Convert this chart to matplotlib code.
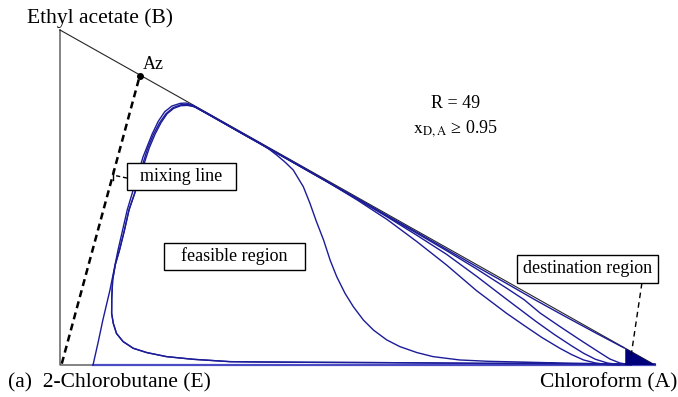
import matplotlib
matplotlib.use('Agg')
import matplotlib.pyplot as plt
from matplotlib.patches import Rectangle

plt.rcParams['font.family'] = ['Liberation Serif', 'DejaVu Serif']
plt.rcParams['mathtext.fontset'] = 'stix'

# compositions: x = chloroform (A), y = ethyl acetate (B), rest 2-chlorobutane (E)
azeotrope = (0.134, 0.863)
mixing_start = (0.003, 0.004)

# profile rising straight from the E-A edge, ends in the destination corner
outer_profile = [(0.0555, 0.000), (0.064, 0.067), (0.072, 0.134), (0.084, 0.224),
                 (0.0975, 0.343), (0.113, 0.463), (0.128, 0.552), (0.1395, 0.621),
                 (0.155, 0.690), (0.165, 0.727), (0.176, 0.756), (0.188, 0.773),
                 (0.202, 0.781), (0.212, 0.782), (0.222, 0.776), (0.25, 0.748),
                 (0.30, 0.698), (0.35, 0.648), (0.40, 0.598), (0.45, 0.547),
                 (0.50, 0.497), (0.55, 0.446), (0.60, 0.396), (0.65, 0.345),
                 (0.70, 0.294), (0.75, 0.244), (0.80, 0.193), (0.85, 0.144),
                 (0.90, 0.096), (0.948, 0.051)]

# bottom run and hook shared by two profiles
hook_base = [(1.0, 0.002), (0.85, 0.004), (0.70, 0.005), (0.55, 0.007), (0.42, 0.008),
             (0.34, 0.009), (0.2857, 0.010), (0.224, 0.017), (0.179, 0.025),
             (0.146, 0.037), (0.123, 0.050), (0.106, 0.070), (0.095, 0.094),
             (0.0896, 0.124), (0.0868, 0.154), (0.087, 0.200), (0.0885, 0.254),
             (0.093, 0.300), (0.100, 0.343), (0.108, 0.400), (0.116, 0.463),
             (0.125, 0.510), (0.133, 0.552)]

hook_profile = hook_base + [
    (0.143, 0.610), (0.150, 0.648), (0.160, 0.690), (0.170, 0.724), (0.180, 0.750),
    (0.191, 0.766), (0.203, 0.774), (0.214, 0.775), (0.226, 0.771), (0.25, 0.748),
    (0.30, 0.698), (0.32, 0.678), (0.336, 0.662), (0.350, 0.646), (0.364, 0.627),
    (0.378, 0.606), (0.392, 0.582), (0.409, 0.532), (0.420, 0.483), (0.431, 0.428),
    (0.443, 0.373), (0.454, 0.313), (0.465, 0.264), (0.479, 0.214), (0.493, 0.174),
    (0.510, 0.134), (0.527, 0.104), (0.549, 0.075), (0.571, 0.055), (0.600, 0.037),
    (0.627, 0.025), (0.672, 0.015), (0.72, 0.011), (0.773, 0.009), (0.84, 0.006),
    (0.908, 0.004), (1.0, 0.002)]

middle_profile = hook_base + [
    (0.140, 0.605), (0.147, 0.645), (0.157, 0.688), (0.167, 0.722), (0.178, 0.750),
    (0.190, 0.768), (0.203, 0.777), (0.215, 0.778), (0.228, 0.769), (0.25, 0.747),
    (0.30, 0.697), (0.35, 0.647), (0.40, 0.597), (0.45, 0.546), (0.50, 0.495),
    (0.55, 0.444), (0.60, 0.393), (0.65, 0.341), (0.70, 0.287), (0.75, 0.230),
    (0.78, 0.195), (0.807, 0.155), (0.84, 0.115), (0.874, 0.075), (0.908, 0.036),
    (0.924, 0.018), (0.941, 0.006), (0.96, 0.000)]

fan_profile_3 = [(0.222, 0.776), (0.25, 0.748), (0.30, 0.697), (0.35, 0.647),
                 (0.40, 0.597), (0.45, 0.546), (0.50, 0.495), (0.55, 0.442),
                 (0.60, 0.387), (0.65, 0.330), (0.70, 0.265), (0.75, 0.197),
                 (0.80, 0.130), (0.83, 0.092), (0.86, 0.057), (0.88, 0.035),
                 (0.90, 0.017), (0.92, 0.006), (0.94, 0.001), (0.96, 0.000)]

fan_profile_4 = [(0.222, 0.776), (0.25, 0.748), (0.30, 0.697), (0.35, 0.647),
                 (0.40, 0.596), (0.45, 0.546), (0.50, 0.492), (0.55, 0.434),
                 (0.60, 0.368), (0.65, 0.298), (0.70, 0.222), (0.75, 0.155),
                 (0.78, 0.118), (0.81, 0.082), (0.84, 0.050), (0.86, 0.031),
                 (0.88, 0.015), (0.90, 0.006), (0.92, 0.001), (0.94, 0.000)]

profiles = [outer_profile, hook_profile, middle_profile, fan_profile_3, fan_profile_4]

# distillate purity target x_D,A >= 0.95
purity = 0.95

fig = plt.figure(figsize=(6.78, 3.97), dpi=100)
ax = fig.add_axes([60 / 678, 32 / 397, 595 / 678, 335 / 397])
ax.set_xlim(0, 1)
ax.set_ylim(0, 1)
ax.axis('off')

# triangle edges
ax.plot([0, 0, 1, 0], [1, 0, 0, 1], color='0.15', lw=0.8, clip_on=False, zorder=2)

# feasible region boundary along the E-A edge
ax.plot([outer_profile[0][0], 1], [0, 0], color='#4b4bc4', lw=1.6, clip_on=False, zorder=3)

blue = '#1c1c98'
for prof in profiles:
    xs = [p[0] for p in prof]
    ys = [p[1] for p in prof]
    ax.plot(xs, ys, color=blue, lw=1.0, clip_on=False, zorder=3, solid_joinstyle='round')

# destination region
ax.fill([purity, 1, purity], [0, 0, 1 - purity], color='#00007a', lw=0, zorder=4, clip_on=False)

# mixing line E -> Az
ax.plot([mixing_start[0], azeotrope[0]], [mixing_start[1], azeotrope[1]],
        color='k', lw=1.8, ls=(0, (2.8, 1.8)), clip_on=False, zorder=5)
ax.plot(*azeotrope, 'o', color='k', ms=4, zorder=6, clip_on=False)
ax.text(azeotrope[0] + 0.006, azeotrope[1] + 0.01, 'Az', fontsize=13, ha='left', va='bottom')

# labelled boxes
def label_box(x0, x1, y0, y1, text):
    ax.add_patch(Rectangle((x0, y0), x1 - x0, y1 - y0, fc='white', ec='k', lw=1.0,
                           zorder=7, clip_on=False))
    ax.text((x0 + x1) / 2, (y0 + y1) / 2, text, fontsize=13, ha='center', va='center',
            zorder=8)

label_box(0.1126, 0.2958, 0.522, 0.603, 'mixing line')
label_box(0.1748, 0.4118, 0.2836, 0.3642, 'feasible region')
label_box(0.768, 1.005, 0.2448, 0.3284, 'destination region')

# leaders
ax.plot([0.1126, 0.089], [0.558, 0.567], color='k', lw=1.0, ls=(0, (3, 2)), zorder=6, clip_on=False)
ax.plot([0.089, 0.089], [0.553, 0.582], color='k', lw=1.0, zorder=6, clip_on=False)
ax.plot([0.978, 0.960], [0.2448, 0.030], color='k', lw=1.0, ls=(0, (4, 3)), zorder=6, clip_on=False)

# vertex labels
ax.text(0.067, 1.035, 'Ethyl acetate (B)', fontsize=15.5, ha='center', va='center')
ax.text(-0.087, -0.052, '(a)  2-Chlorobutane (E)', fontsize=15.5, ha='left', va='center')
ax.text(1.037, -0.052, 'Chloroform (A)', fontsize=15.5, ha='right', va='center')

ax.text(0.664, 0.782, 'R = 49', fontsize=13, ha='center', va='center')
ax.text(0.664, 0.707, r'$\mathrm{x_{D,A}}$ ≥ %.2f' % purity, fontsize=13, ha='center', va='center')

fig.savefig('out.png', dpi=100)
